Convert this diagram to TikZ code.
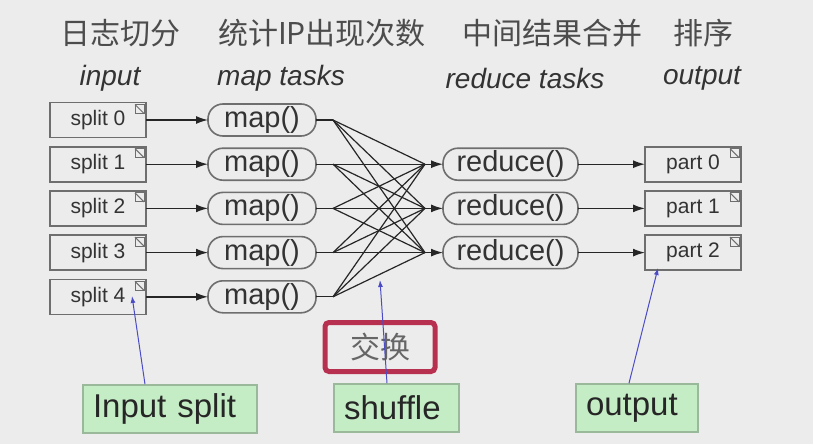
\documentclass[tikz,border=0pt]{standalone}
\usepackage{fontspec}
\setmainfont{Liberation Sans}
\newfontfamily\cjk{Noto Sans CJK SC}
\usetikzlibrary{arrows.meta,positioning,calc}
\definecolor{mrbg}{HTML}{ECECEC}
\definecolor{mrline}{HTML}{6E6E6E}
\definecolor{mrtext}{HTML}{333333}
\definecolor{mrgreen}{HTML}{C5EDC5}
\definecolor{mrgreenline}{HTML}{9AB89A}
\definecolor{mrred}{HTML}{B8304F}
\definecolor{mrblue}{HTML}{4B4BC8}

\begin{document}
\begin{tikzpicture}[
  x=0.5pt, y=-0.5pt,
  node distance=4.6pt and 31pt,
  filebox/.style={
    draw=mrline, line width=0.8pt, outer sep=0pt,
    minimum width=48pt, minimum height=17.5pt, inner sep=0pt,
    text=mrtext, font=\fontsize{10.5pt}{12pt}\selectfont},
  task/.style={
    draw=mrline, line width=0.8pt, rounded corners=7.5pt, outer sep=0pt,
    minimum height=16pt, inner sep=0pt,
    text=mrtext, font=\fontsize{14.5pt}{16pt}\selectfont},
  maptask/.style={task, minimum width=54pt},
  redtask/.style={task, minimum width=67.5pt},
  flow/.style={-{Latex[length=6pt,width=4pt]}, black!85, line width=0.7pt},
  mix/.style={black!85, line width=0.6pt},
  head/.style={font=\cjk\fontsize{15pt}{18pt}\selectfont, text=black!70},
  sub/.style={font=\itshape\fontsize{14pt}{16pt}\selectfont, text=black!80},
  note/.style={
    draw=mrgreenline, fill=mrgreen, line width=0.8pt,
    minimum height=24pt, inner xsep=5pt, align=left,
    font=\fontsize{16.5pt}{18pt}\selectfont, text=black!85},
  pointer/.style={-{Latex[length=3.5pt,width=2.5pt]}, mrblue, line width=0.5pt},
  ear/.style={draw=mrline, line width=0.5pt},
]

  %% ---- Background / frame ----
  \useasboundingbox (0,0) rectangle (813,444);
  \fill[mrbg] (0,0) rectangle (813,444);

  %% ---- Column titles ----
  \node[head] (h1) at (120,33) {日志切分};
  \node[head] (h2) at (322,33) {统计IP出现次数};
  \node[head] (h3) at (552,33) {中间结果合并};
  \node[head] (h4) at (703,33) {排序};

  \node[sub] (t1) at (110,78) {input};
  \node[sub] (t2) at (281,78) {map tasks};
  \node[sub] (t3) at (525,78) {reduce tasks};
  \node[sub] (t4) at (702,78) {output};

  %% ---- Input splits ----
  \node[filebox] (split0) at (98,120) {split 0};
  \node[filebox, below=of split0] (split1) {split 1};
  \node[filebox, below=of split1] (split2) {split 2};
  \node[filebox, below=of split2] (split3) {split 3};
  \node[filebox, below=of split3] (split4) {split 4};

  %% ---- Map tasks ----
  \node[maptask, right=of split0] (map0) {map()};
  \node[maptask, right=of split1] (map1) {map()};
  \node[maptask, right=of split2] (map2) {map()};
  \node[maptask, right=of split3] (map3) {map()};
  \node[maptask, right=of split4] (map4) {map()};

  %% ---- Reduce tasks ----
  \node[redtask, right=63.5pt of map1] (red0) {reduce()};
  \node[redtask, right=63.5pt of map2] (red1) {reduce()};
  \node[redtask, right=63.5pt of map3] (red2) {reduce()};

  %% ---- Output parts ----
  \node[filebox, right=33.5pt of red0] (part0) {part 0};
  \node[filebox, right=33.5pt of red1] (part1) {part 1};
  \node[filebox, right=33.5pt of red2] (part2) {part 2};

  %% ---- Folded corners on the files ----
  \foreach \f in {split0,split1,split2,split3,split4,part0,part1,part2}{
    \draw[ear] ([shift={(-1pt,-1pt)}]\f.north east) rectangle ++(-4.5pt,-4.5pt);
    \draw[ear] ([shift={(-5.5pt,-1pt)}]\f.north east) -- ++(4.5pt,-4.5pt);
  }

  %% ---- Split -> map ----
  \draw[flow] (split0.east) -- (map0.west);
  \draw[flow] (split1.east) -- (map1.west);
  \draw[flow] (split2.east) -- (map2.west);
  \draw[flow] (split3.east) -- (map3.west);
  \draw[flow] (split4.east) -- (map4.west);

  %% ---- Shuffle (every map to every reduce) ----
  \foreach \i in {0,...,4}{
    \coordinate (fa\i) at ([xshift=8.5pt]map\i.east);
    \draw[mix] (map\i.east) -- (fa\i);
  }
  \foreach \j in {0,1,2}{
    \coordinate (fb\j) at ([xshift=-9pt]red\j.west);
    \draw[flow] (fb\j) -- (red\j.west);
  }
  \foreach \i in {0,...,4}{
    \foreach \j in {0,1,2}{
      \draw[mix] (fa\i) -- (fb\j);
    }
  }

  %% ---- Reduce -> output ----
  \draw[flow] (red0.east) -- (part0.west);
  \draw[flow] (red1.east) -- (part1.west);
  \draw[flow] (red2.east) -- (part2.west);

  %% ---- Call-outs ----
  \node[draw=mrred, line width=2.5pt, rounded corners=2pt,
        minimum width=55pt, minimum height=24.5pt,
        font=\cjk\fontsize{15pt}{18pt}\selectfont, text=black!60] (swap) at (380,347) {交换};

  \node[note, text width=77pt] (insplit) at (170,409) {Input split};
  \node[note, text width=52.5pt] (shufnote) at (396.5,408) {shuffle};
  \node[note, text width=51pt] (outnote) at (637,408) {output};

  \coordinate (inTip) at (132,296);
  \coordinate (shufTip) at (380,280);
  \coordinate (outTip) at (658,268);
  \draw[pointer] ([xshift=-12.5pt]insplit.north) -- (inTip);
  \draw[pointer] ([xshift=-4.75pt]shufnote.north) -- (shufTip);
  \draw[pointer] ([xshift=-4pt]outnote.north) -- (outTip);

\end{tikzpicture}
\end{document}
